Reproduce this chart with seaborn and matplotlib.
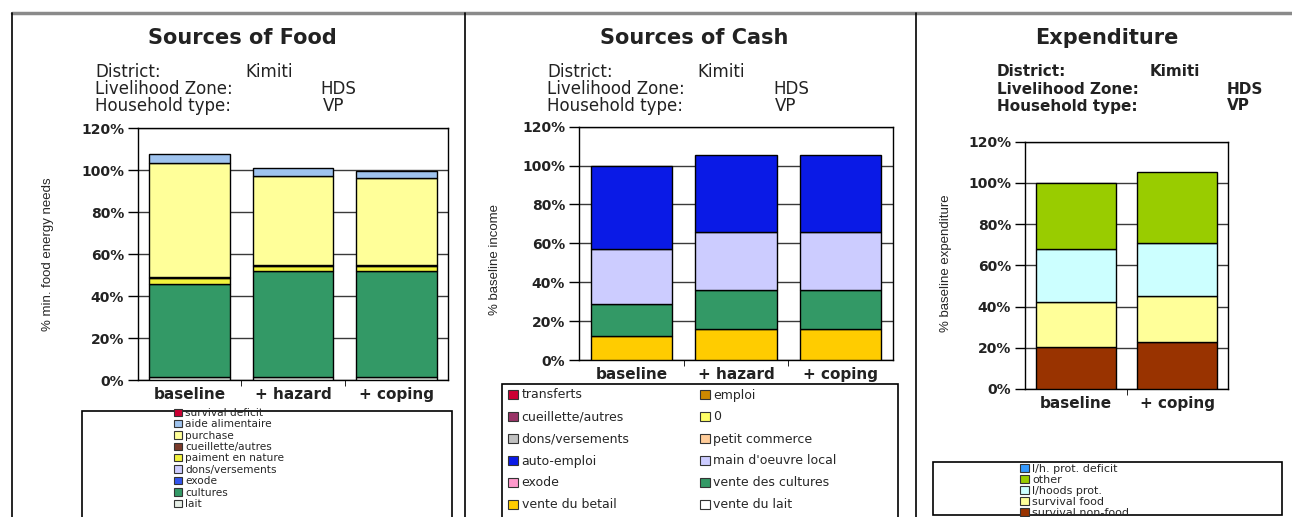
"""
Household economy outcome charts: sources of food, sources of cash and
expenditure for one livelihood zone, drawn as stacked seaborn bars.
"""

import matplotlib
matplotlib.use("Agg")
import numpy as np
import matplotlib.pyplot as plt
import seaborn as sns
from matplotlib import font_manager
from matplotlib.lines import Line2D
from matplotlib.patches import Patch, Rectangle
from matplotlib.ticker import FuncFormatter

# ---- Sources of food (% of minimum food energy needs) ----
food_scenarios = ["baseline", "+ hazard", "+ coping"]
food_lait = [1.5, 1.5, 1.5]
food_cultures = [44.0, 50.5, 50.5]
food_exode = [0.0, 0.0, 0.0]
food_dons = [0.0, 0.0, 0.0]
food_paiment = [3.0, 2.3, 2.3]
food_cueillette = [0.5, 0.7, 0.7]
food_purchase = [54.5, 42.1, 41.0]
food_aide = [4.1, 4.0, 3.7]
food_deficit = [0.0, 0.0, 0.0]

# ---- Sources of cash (% of baseline income) ----
cash_scenarios = ["baseline", "+ hazard", "+ coping"]
cash_vente_lait = [0.0, 0.0, 0.0]
cash_vente_betail = [12.3, 16.2, 16.2]
cash_vente_cultures = [16.7, 19.6, 19.6]
cash_exode = [0.0, 0.0, 0.0]
cash_main_oeuvre = [28.0, 29.8, 29.8]
cash_auto_emploi = [43.0, 39.7, 39.7]
cash_petit_commerce = [0.0, 0.0, 0.0]
cash_dons = [0.0, 0.0, 0.0]
cash_zero = [0.0, 0.0, 0.0]
cash_cueillette = [0.0, 0.0, 0.0]
cash_emploi = [0.0, 0.0, 0.0]
cash_transferts = [0.0, 0.0, 0.0]

# ---- Expenditure (% of baseline expenditure) ----
exp_scenarios = ["baseline", "+ coping"]
exp_non_food = [20.6, 22.7]
exp_food = [21.8, 22.6]
exp_lh_prot = [25.3, 25.7]
exp_other = [32.3, 34.2]
exp_deficit = [0.0, 0.0]

# stacking order is bottom -> top; legend shows top -> bottom (Excel style)
food_layers = [
    ("lait", food_lait, "#E6EEE6"),
    ("cultures", food_cultures, "#339966"),
    ("exode", food_exode, "#3355EE"),
    ("dons/versements", food_dons, "#CCCCFF"),
    ("paiment en nature", food_paiment, "#F2F23C"),
    ("cueillette/autres", food_cueillette, "#7A3A2A"),
    ("purchase", food_purchase, "#FFFF99"),
    ("aide alimentaire", food_aide, "#9FC3EE"),
    ("survival deficit", food_deficit, "#CC0033"),
]
cash_layers = [
    ("vente du lait", cash_vente_lait, "#FFFFFF"),
    ("vente du betail", cash_vente_betail, "#FFCC00"),
    ("vente des cultures", cash_vente_cultures, "#339966"),
    ("exode", cash_exode, "#FF99CC"),
    ("main d'oeuvre local", cash_main_oeuvre, "#CCCCFF"),
    ("auto-emploi", cash_auto_emploi, "#0A1AE6"),
    ("petit commerce", cash_petit_commerce, "#FFCC99"),
    ("dons/versements", cash_dons, "#C0C0C0"),
    ("0", cash_zero, "#FFFF66"),
    ("cueillette/autres", cash_cueillette, "#993366"),
    ("emploi", cash_emploi, "#CC8800"),
    ("transferts", cash_transferts, "#CC0033"),
]
exp_layers = [
    ("survival non-food", exp_non_food, "#993300"),
    ("survival food", exp_food, "#FFFF99"),
    ("l/hoods prot.", exp_lh_prot, "#CCFFFF"),
    ("other", exp_other, "#99CC00"),
    ("l/h. prot. deficit", exp_deficit, "#3399FF"),
]

W, H = 1292, 517


def fx(x):
    return x / W


def fy(y):
    return 1 - y / H


def draw_stack(ax, scenarios, layers, width=0.78):
    bottom = np.zeros(len(scenarios))
    for name, values, color in layers:
        vals = np.asarray(values, dtype=float)
        if vals.sum() > 0:
            sns.barplot(x=scenarios, y=vals, bottom=bottom, color=color,
                        saturation=1, edgecolor="black", linewidth=1.0,
                        width=width, errorbar=None, ax=ax, zorder=3)
        bottom = bottom + vals


def style_axes(ax, ylabel, label_xy, label_font):
    ax.set_ylim(0, 120)
    ax.set_yticks(range(0, 121, 20))
    ax.yaxis.set_major_formatter(FuncFormatter(lambda v, p: f"{v:.0f}%"))
    ax.yaxis.grid(True, color="#3a3a3a", linewidth=1.0)
    ax.xaxis.grid(False)
    ax.set_axisbelow(True)
    ax.set_facecolor("white")
    ax.tick_params(axis="y", direction="out", length=7, width=1,
                   color="black", labelsize=10, pad=3, left=True)
    ax.tick_params(axis="x", which="major", length=0, labelsize=11, pad=5)
    n = len(ax.get_xticks())
    ax.set_xticks([i + 0.5 for i in range(n - 1)], minor=True)
    ax.tick_params(axis="x", which="minor", length=4, direction="out",
                   color="black", bottom=True)
    plt.setp(ax.get_yticklabels(), fontweight="bold", color="#222222")
    plt.setp(ax.get_xticklabels(), fontweight="bold", color="#222222")
    for s in ax.spines.values():
        s.set_visible(True)
        s.set_color("black")
        s.set_linewidth(1.0)
    ax.set_xlabel("")
    ax.set_ylabel(ylabel, fontsize=9.5, family=label_font)
    ax.yaxis.set_label_coords(*label_xy)


def header(fig, cx, title, x_lab, x_vals, bold_info, size):
    fig.text(fx(cx), fy(38), title, ha="center", va="center",
             fontsize=15, fontweight="bold", color="#222222")
    rows = [("District:", "Kimiti"), ("Livelihood Zone:", "HDS"),
            ("Household type:", "VP")]
    weight = "bold" if bold_info else "normal"
    for (lab, val), xv, yy in zip(rows, x_vals, [72, 89, 106]):
        fig.text(fx(x_lab), fy(yy), lab, ha="left", va="center",
                 fontsize=size, fontweight=weight, color="#222222")
        fig.text(fx(xv), fy(yy), val, ha="left", va="center",
                 fontsize=size, fontweight=weight, color="#222222")


def make_handles(layers):
    return [Patch(facecolor=c, edgecolor="#333333", linewidth=0.8, label=n)
            for n, _, c in layers[::-1]]


sns.set_style("white")
plt.rcParams["font.family"] = ["DejaVu Sans"]
installed = {f.name for f in font_manager.fontManager.ttflist}
narrow = "Liberation Sans Narrow" if "Liberation Sans Narrow" in installed else "Liberation Sans"

fig = plt.figure(figsize=(W / 100, H / 100), dpi=100)
fig.patch.set_facecolor("white")

# panel frames
fig.add_artist(Line2D([fx(12), 1], [fy(13), fy(13)], color="#8a8a8a", lw=2.5))
for xl in (12, 465, 916):
    fig.add_artist(Line2D([fx(xl), fx(xl)], [fy(13), 0], color="black", lw=1.2))

# ---- panel 1: food ----
ax1 = fig.add_axes([fx(138), fy(380), (448 - 138) / W, (380 - 128) / H])
draw_stack(ax1, food_scenarios, food_layers)
style_axes(ax1, "% min. food energy needs", (-0.272, 0.5), narrow)
header(fig, 242, "Sources of Food", 95, [245, 320, 323], False, 12)

fig.add_artist(Rectangle((fx(82), fy(520)), (452 - 82) / W, (520 - 411) / H,
                         transform=fig.transFigure, fill=False,
                         edgecolor="black", lw=1.2))
fig.legend(handles=make_handles(food_layers), loc="upper left",
           bbox_to_anchor=(fx(174), fy(408)), frameon=False, fontsize=7.6,
           labelspacing=0.13, handlelength=0.8, handleheight=0.7,
           handletextpad=0.25, borderpad=0, borderaxespad=0)

# ---- panel 2: cash ----
ax2 = fig.add_axes([fx(579), fy(360), (893 - 579) / W, (360 - 126.7) / H])
draw_stack(ax2, cash_scenarios, cash_layers)
style_axes(ax2, "% baseline income", (-0.25, 0.43), narrow)
header(fig, 694, "Sources of Cash", 547, [697, 773, 775], False, 12)

fig.add_artist(Rectangle((fx(502), fy(520)), (898 - 502) / W, (520 - 384) / H,
                         transform=fig.transFigure, fill=False,
                         edgecolor="black", lw=1.2))
cash_handles = make_handles(cash_layers)
# legend reads row-wise in two columns; matplotlib fills column-wise
cash_order = cash_handles[0::2] + cash_handles[1::2]
fig.legend(handles=cash_order, loc="upper left", ncol=2,
           bbox_to_anchor=(fx(508), fy(388.5)), frameon=False, fontsize=9,
           labelspacing=0.72, handlelength=0.8, handleheight=0.7,
           handletextpad=0.3, columnspacing=5.6, borderpad=0,
           borderaxespad=0)

# ---- panel 3: expenditure ----
ax3 = fig.add_axes([fx(1025), fy(389), (1228 - 1025) / W, (389 - 141.7) / H])
draw_stack(ax3, exp_scenarios, exp_layers, width=0.79)
style_axes(ax3, "% baseline expenditure", (-0.36, 0.51), narrow)
header(fig, 1107, "Expenditure", 997, [1150, 1227, 1227], True, 11)

fig.add_artist(Rectangle((fx(933), fy(515)), (1282 - 933) / W, (515 - 462) / H,
                         transform=fig.transFigure, fill=False,
                         edgecolor="black", lw=1.2))
fig.legend(handles=make_handles(exp_layers), loc="upper left",
           bbox_to_anchor=(fx(1020), fy(463.5)), frameon=False, fontsize=8,
           labelspacing=0.1, handlelength=0.8, handleheight=0.7,
           handletextpad=0.3, borderpad=0, borderaxespad=0)

fig.savefig("out.png", dpi=100, facecolor="white")
